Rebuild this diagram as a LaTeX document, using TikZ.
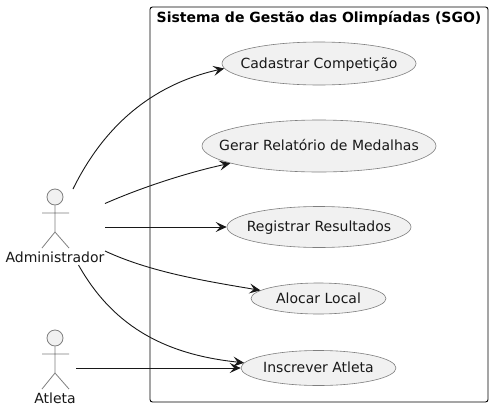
\documentclass[tikz,border=0pt]{standalone}
\usepackage{fontspec}
\setmainfont{DejaVu Sans}
\usetikzlibrary{arrows.meta,shapes.geometric}
\definecolor{ucfill}{HTML}{F1F1F1}
\definecolor{ink}{HTML}{181818}
\definecolor{actline}{HTML}{7F7F7F}
\newcommand{\uctext}[1]{\raisebox{-4.6pt}[0pt][0pt]{\makebox[0pt][c]{#1}}}
\tikzset{
  usecase/.style={ellipse,draw=actline,line width=0.6pt,fill=ucfill,inner sep=0pt,text=ink,font=\fontsize{14}{16}\selectfont},
  head/.style={circle,draw=actline,line width=0.8pt,fill=ucfill,minimum size=16pt,inner sep=0pt},
  limb/.style={draw=actline,line width=0.8pt},
  actorlabel/.style={text=ink,inner sep=0pt,font=\fontsize{14}{16}\selectfont},
  frametitle/.style={text=black,inner sep=0pt,font=\bfseries\fontsize{14}{16}\selectfont},
  sysframe/.style={draw=black,line width=0.9pt,rounded corners=2.5pt},
  link/.style={draw=ink,line width=0.9pt,-{Stealth[length=11pt,width=10pt,inset=4.5pt]}}
}
\begin{document}
\begin{tikzpicture}[x=1pt,y=-1pt]
\useasboundingbox (0,0) rectangle (493,410);
\fill[white] (0,0) rectangle (493,410);
\draw[sysframe] (150,7) rectangle (488,402);
\node[frametitle] (title) at (319,18) {Sistema de Gestão das Olimpíadas (SGO)};

\node[usecase,minimum width=194pt,minimum height=43pt] (cad) at (319,63.5) {\uctext{Cadastrar Competição}};
\node[usecase,minimum width=234pt,minimum height=52pt] (ger) at (319,146) {\uctext{Gerar Relatório de Medalhas}};
\node[usecase,minimum width=184pt,minimum height=41pt] (reg) at (319,227) {\uctext{Registrar Resultados}};
\node[usecase,minimum width=135pt,minimum height=31pt] (alo) at (318.5,298.5) {\uctext{Alocar Local}};
\node[usecase,minimum width=155pt,minimum height=35pt] (ins) at (318.5,368) {\uctext{Inscrever Atleta}};

% Administrador
\node[head] (admh) at (55,197) {};
\draw[limb] (admh.south) -- (55,232) (42,213) -- (69,213) (42,248) -- (55,232) -- (69,248);
\node[actorlabel] (adm) at (55,257.5) {Administrador};
% Atleta
\node[head] (atlh) at (55,338) {};
\draw[limb] (atlh.south) -- (55,373) (42,354) -- (69,354) (42,389) -- (55,373) -- (69,389);
\node[actorlabel] (atl) at (55,398) {Atleta};

\coordinate (a1) at (73,189);
\coordinate (a2) at (105,203.5);
\coordinate (a3) at (105,227);
\coordinate (a4) at (105,251);
\coordinate (a5) at (78.5,265);
\coordinate (b1) at (76,368);

\draw[link] (a1) .. controls (103,128) and (150,85) .. (cad.183.4);
\draw[link] (a2) .. controls (145,186) and (190,172) .. (ger.191);
\draw[link] (a3) -- (reg.180);
\draw[link] (a4) .. controls (150,272) and (205,281) .. (alo.172.8);
\draw[link] (a5) .. controls (115,330) and (170,355) .. (ins.176.5);
\draw[link] (b1) -- (ins.180);
\end{tikzpicture}
\end{document}
